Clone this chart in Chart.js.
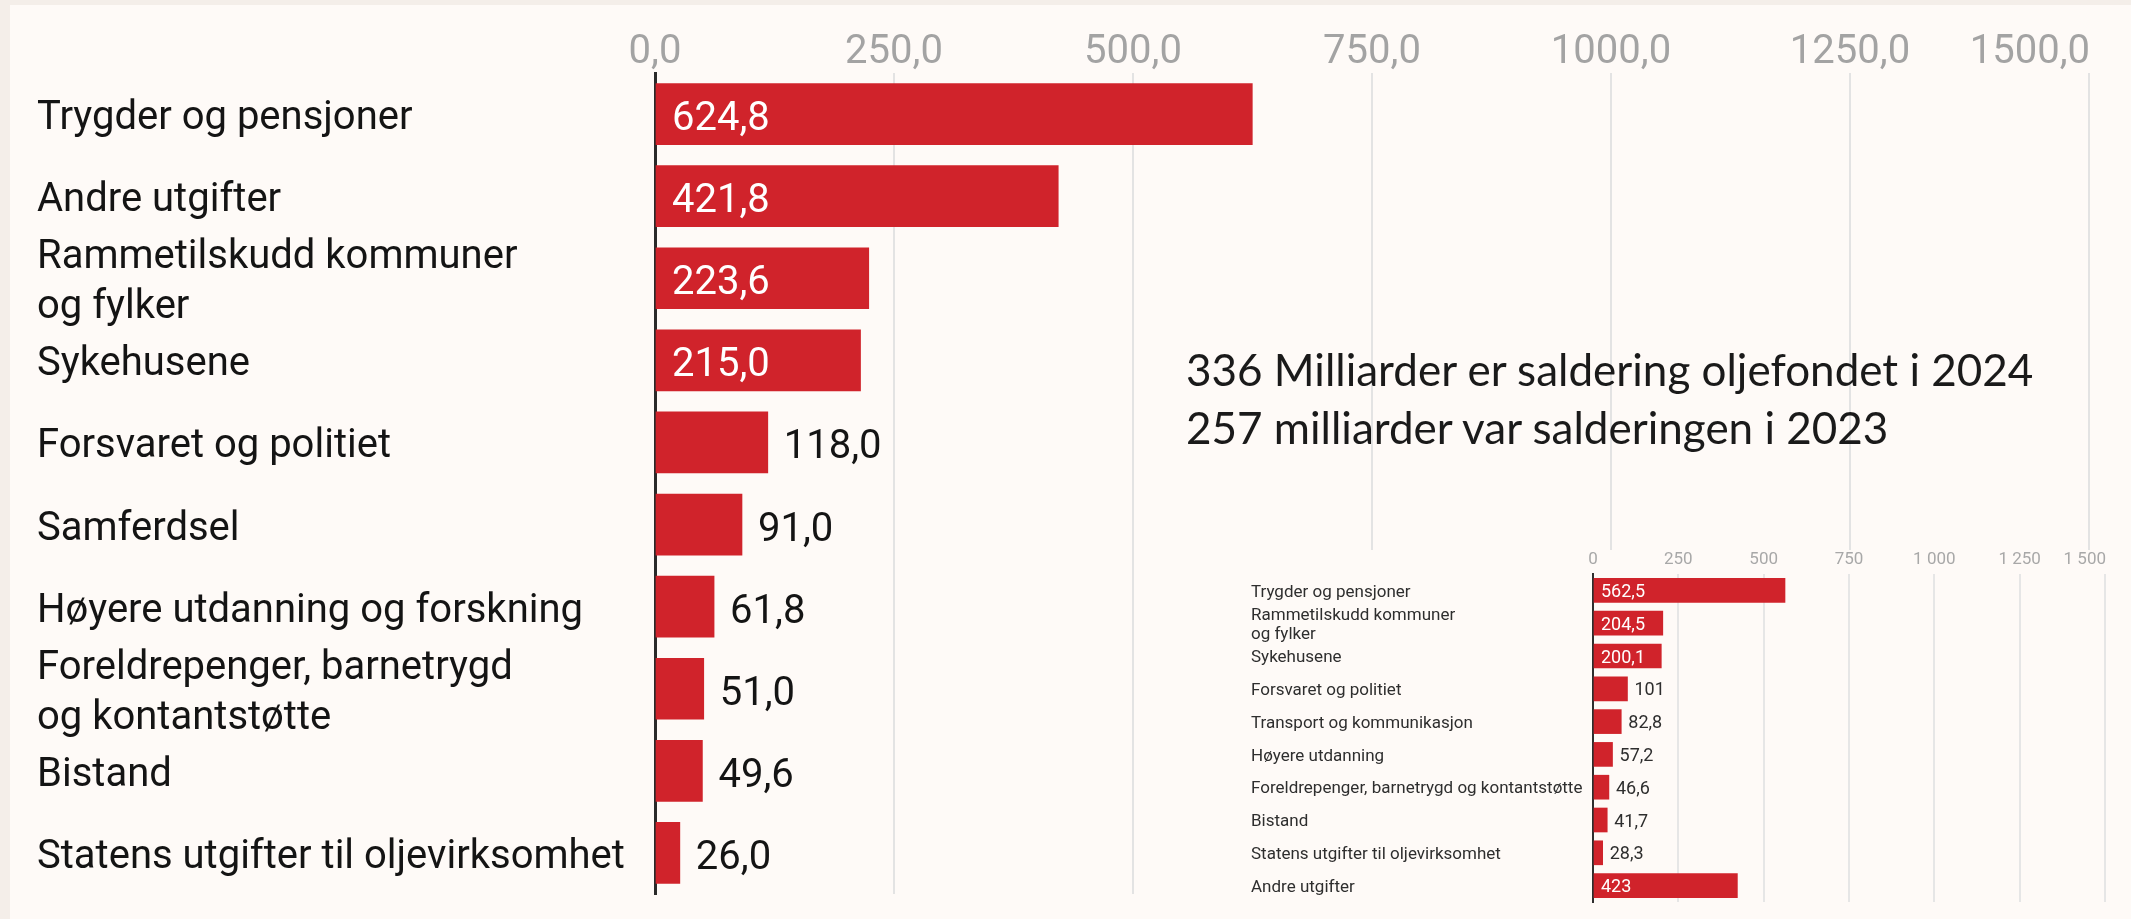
<!DOCTYPE html>
<html lang="no">
<head>
<meta charset="utf-8">
<script src="https://cdn.jsdelivr.net/npm/chart.js@4.4.1/dist/chart.umd.min.js"></script>
<style>
html,body{margin:0;padding:0;}
body{width:2131px;height:919px;background:#f4eee9;position:relative;overflow:hidden;font-family:Roboto,sans-serif;}
#page{position:absolute;left:10px;top:5px;width:2121px;height:914px;background:#fefaf7;}
#mainChart{position:absolute;left:0;top:0;}
#note{position:absolute;left:1176px;top:335px;font-family:Lato,sans-serif;font-size:44px;line-height:58px;color:#1a1a1a;white-space:nowrap;}
#insetBox{position:absolute;left:1190px;top:545px;width:931px;height:369px;background:#fefaf7;}
</style>
</head>
<body>
<div id="page">
  <canvas id="mainChart" width="2121" height="914"></canvas>
  <div id="note">336 Milliarder er saldering oljefondet i 2024<br>257 milliarder var salderingen i 2023</div>
  <div id="insetBox"><canvas id="insetChart" width="931" height="369"></canvas></div>
</div>
<script>
// statsbudsjettet 2024 (stor figur), milliarder kroner
const mainCategories=[
  'Trygder og pensjoner',
  'Andre utgifter',
  ['Rammetilskudd kommuner','og fylker'],
  'Sykehusene',
  'Forsvaret og politiet',
  'Samferdsel',
  'Høyere utdanning og forskning',
  ['Foreldrepenger, barnetrygd','og kontantstøtte'],
  'Bistand',
  'Statens utgifter til oljevirksomhet'
];
const mainValues=[624.8,421.8,223.6,215.0,118.0,91.0,61.8,51.0,49.6,26.0];

// 2023 (liten figur)
const insetCategories=[
  'Trygder og pensjoner',
  ['Rammetilskudd kommuner','og fylker'],
  'Sykehusene',
  'Forsvaret og politiet',
  'Transport og kommunikasjon',
  'Høyere utdanning',
  'Foreldrepenger, barnetrygd og kontantstøtte',
  'Bistand',
  'Statens utgifter til oljevirksomhet',
  'Andre utgifter'
];
const insetValues=[562.5,204.5,200.1,101,82.8,57.2,46.6,41.7,28.3,423];

const axisTicks=[0,250,500,750,1000,1250,1500];

const RED='#d0232b';

const fmtMain=v=> v.toFixed(1).replace('.',',');
const fmtInset=v=> (Math.round(v*10)/10).toString().replace('.',',');
const fmtInsetTick=v=> v>=1000 ? Math.floor(v/1000)+' '+String(v%1000).padStart(3,'0') : String(v);

// value labels, white inside big bars and dark outside small ones
function makeValueLabels(cfg){
  return {
    id:'valueLabels',
    afterDatasetsDraw(chart){
      const ctx=chart.ctx;
      const meta=chart.getDatasetMeta(0);
      const vals=chart.data.datasets[0].data;
      ctx.save();
      ctx.font=cfg.font;
      ctx.textBaseline='middle';
      ctx.textAlign='left';
      meta.data.forEach((bar,i)=>{
        const v=vals[i];
        const inside=v>=cfg.insideFrom;
        ctx.fillStyle=inside ? '#ffffff' : cfg.color;
        const x=inside ? bar.base+cfg.padIn : bar.x+cfg.padOut;
        ctx.fillText(cfg.format(v),x,bar.y+cfg.dy);
      });
      ctx.restore();
    }
  };
}

// tick labels above the plot, last one pulled in to the edge
function makeTopTicks(cfg){
  return {
    id:'topTicks',
    afterDraw(chart){
      const ctx=chart.ctx;
      const scale=chart.scales.x;
      const last=scale.ticks.length-1;
      ctx.save();
      ctx.font=cfg.font;
      ctx.fillStyle=cfg.color;
      ctx.textBaseline='middle';
      scale.ticks.forEach((t,i)=>{
        const px=scale.getPixelForValue(t.value);
        ctx.textAlign=i===last ? 'right' : 'center';
        ctx.fillText(cfg.format(t.value),px+(i===last?1:0),cfg.y);
      });
      ctx.restore();
    }
  };
}

const mainCtx=document.getElementById('mainChart').getContext('2d');
new Chart(mainCtx,{
  type:'bar',
  data:{
    labels:mainCategories,
    datasets:[{data:mainValues,backgroundColor:RED,borderWidth:0,barThickness:61}]
  },
  options:{
    indexAxis:'y',
    responsive:false,
    animation:false,
    layout:{padding:{left:27,right:42,top:68,bottom:24}},
    plugins:{legend:{display:false},tooltip:{enabled:false}},
    scales:{
      x:{
        position:'top',min:0,max:1500,
        afterBuildTicks:s=>{s.ticks=axisTicks.map(v=>({value:v}));},
        ticks:{display:false},
        grid:{color:'#e3e3e3',lineWidth:2,drawTicks:false},
        border:{display:false}
      },
      y:{
        z:1,
        ticks:{autoSkip:false,crossAlign:'far',color:'#141414',font:{family:'Roboto',size:40,lineHeight:1.25},padding:0,labelOffset:5},
        grid:{display:false,drawTicks:false},
        border:{display:true,color:'#2a2a2a',width:3},
        afterFit:s=>{s.width=618;}
      }
    }
  },
  plugins:[
    makeValueLabels({font:'40px Roboto',color:'#141414',insideFrom:200,padIn:16,padOut:16,dy:6,format:fmtMain}),
    makeTopTicks({font:'40px Roboto',color:'#a3a3a3',y:48,format:fmtMain})
  ]
});

const insetCtx=document.getElementById('insetChart').getContext('2d');
new Chart(insetCtx,{
  type:'bar',
  data:{
    labels:insetCategories,
    datasets:[{data:insetValues,backgroundColor:RED,borderWidth:0,barThickness:24}]
  },
  options:{
    indexAxis:'y',
    responsive:false,
    animation:false,
    layout:{padding:{left:51,right:26,top:24,bottom:17}},
    plugins:{legend:{display:false},tooltip:{enabled:false}},
    scales:{
      x:{
        position:'top',min:0,max:1500,
        afterBuildTicks:s=>{s.ticks=axisTicks.map(v=>({value:v}));},
        ticks:{display:false},
        grid:{color:'#e6e6e6',lineWidth:2,drawTicks:false},
        border:{display:false}
      },
      y:{
        z:1,
        ticks:{autoSkip:false,crossAlign:'far',color:'#2e2e2e',font:{family:'Roboto',size:17,lineHeight:1.12},padding:0,labelOffset:2},
        grid:{display:false,drawTicks:false},
        border:{display:true,color:'#2e2e2e',width:2},
        afterFit:s=>{s.width=342;}
      }
    }
  },
  plugins:[
    makeValueLabels({font:'18px Roboto',color:'#2e2e2e',insideFrom:150,padIn:7,padOut:7,dy:2,format:fmtInset}),
    makeTopTicks({font:'17px Roboto',color:'#a8a8a8',y:10,format:fmtInsetTick})
  ]
});
</script>
</body>
</html>
